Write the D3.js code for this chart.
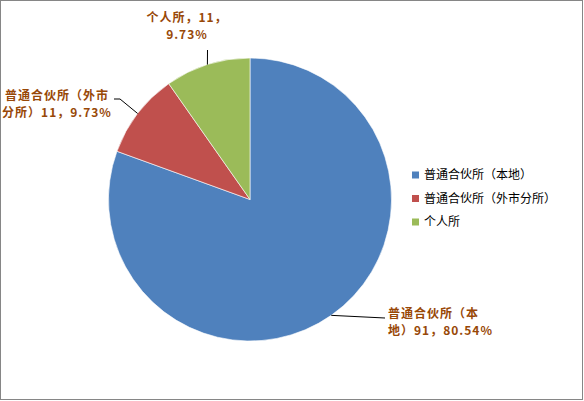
<!DOCTYPE html>
<html>
<head>
<meta charset="utf-8">
<script src="https://cdn.jsdelivr.net/npm/d3@7"></script>
<style>
  html, body { margin: 0; padding: 0; background: #fff; }
  svg { display: block; }
</style>
</head>
<body>
<svg id="chart"></svg>
<script>
// chart values
const categories = ["普通合伙所（本地）", "普通合伙所（外市分所）", "个人所"];
const counts = [91, 11, 11];
const percents = ["80.54%", "9.73%", "9.73%"];
const sliceColors = ["#4F81BD", "#C0504D", "#9BBB59"];

// data label text lines, already wrapped like the original
const labelLines = [
  ["普通合伙所（本", "地）91，80.54%"],
  ["普通合伙所（外市", "分所）11，9.73%"],
  ["个人所，11，", "9.73%"]
];

const width = 584, height = 401;
const svg = d3.select("#chart").attr("width", width).attr("height", height);

// outer frame
svg.append("rect")
  .attr("x", 0.5).attr("y", 0.5)
  .attr("width", width - 2).attr("height", height - 2)
  .attr("fill", "#fff").attr("stroke", "#868686");

const cx = 250, cy = 199.5, r = 141.5;

const pie = d3.pie().sort(null).value(d => d)(counts);
const arc = d3.arc().innerRadius(0).outerRadius(r);

const g = svg.append("g").attr("transform", `translate(${cx},${cy})`);

g.selectAll("path")
  .data(pie)
  .join("path")
  .attr("d", arc)
  .attr("fill", (d, i) => sliceColors[i])
  .attr("stroke", "#fff")
  .attr("stroke-width", 0.6);

// label placement (layout only): text anchor point + leader elbow
const labelLayout = [
  {x: 388, y: 318, anchor: "start", leader: [[385, 318]]},
  {x: 57, y: 100, anchor: "middle", leader: [[120, 99], [114, 99]]},
  {x: 187, y: 22, anchor: "middle", leader: [[207.5, 50]]}
];

function edgePoint(d) {
  const a = (d.startAngle + d.endAngle) / 2;
  return [cx + r * Math.sin(a), cy - r * Math.cos(a)];
}

// leader lines
svg.append("g")
  .selectAll("polyline")
  .data(pie)
  .join("polyline")
  .attr("points", (d, i) => [edgePoint(d)].concat(labelLayout[i].leader).map(p => p.join(",")).join(" "))
  .attr("fill", "none")
  .attr("stroke", "#000")
  .attr("stroke-width", 1);

// data labels
const labels = svg.append("g")
  .selectAll("text")
  .data(pie)
  .join("text")
  .attr("x", (d, i) => labelLayout[i].x)
  .attr("y", (d, i) => labelLayout[i].y)
  .attr("text-anchor", (d, i) => labelLayout[i].anchor)
  .attr("fill", "#984807")
  .style("font-family", "'Noto Sans CJK SC', 'DejaVu Sans', sans-serif")
  .style("font-weight", "bold")
  .style("font-size", "12px")
  .style("letter-spacing", "1px");

labels.each(function(d, i) {
  const t = d3.select(this);
  labelLines[i].forEach((line, k) => {
    t.append("tspan")
      .attr("x", labelLayout[i].x)
      .attr("dy", k === 0 ? 0 : 17)
      .text(line);
  });
});

// legend
const legend = svg.append("g").attr("transform", "translate(412,175)");
const items = legend.selectAll("g")
  .data(categories)
  .join("g")
  .attr("transform", (d, i) => `translate(0,${i * 23.5})`);

items.append("rect")
  .attr("x", 0).attr("y", -3.5)
  .attr("width", 7).attr("height", 7)
  .attr("fill", (d, i) => sliceColors[i]);

items.append("text")
  .attr("x", 12).attr("y", 0)
  .attr("dy", "0.36em")
  .attr("fill", "#000")
  .style("font-family", "'Noto Sans CJK SC', sans-serif")
  .style("font-size", "12px")
  .text(d => d);
</script>
</body>
</html>
